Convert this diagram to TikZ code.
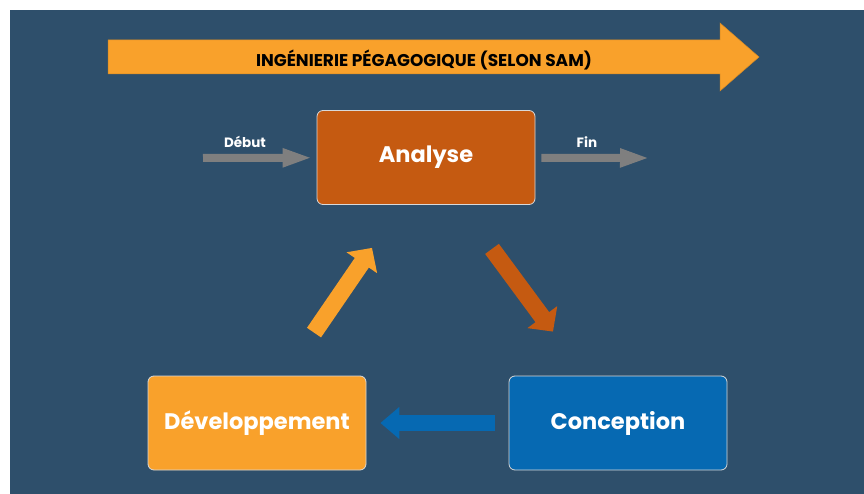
\documentclass[tikz,border=0pt]{standalone}
\usepackage{fontspec}
\setmainfont{Poppins}
\usetikzlibrary{arrows.meta}
\definecolor{fond}{HTML}{2E4F6B}
\definecolor{orangesam}{HTML}{F9A12B}
\definecolor{brique}{HTML}{C55A11}
\definecolor{bleusam}{HTML}{0669B2}
\definecolor{grisfleche}{HTML}{7F7F7F}

\begin{document}
\begin{tikzpicture}[x=1pt, y=-1pt,
  phase box/.style={minimum height=94pt, minimum width=218pt, draw=white!85!black, line width=0.8pt, rounded corners=6pt, text=white, font=\bfseries\fontsize{22.5}{26}\selectfont},
  fat arrow/.style={line width=17pt, -{Triangle[length=18pt, width=36pt]}},
  thin arrow/.style={line width=8pt, grisfleche, -{Triangle[length=30pt, width=17pt]}},
  small label/.style={text=white, font=\bfseries\fontsize{13.5}{16}\selectfont}]
\useasboundingbox (0,0) rectangle (864,494);
\fill[white] (0,0) rectangle (864,494);
\fill[fond] (10,10) rectangle (864,494);

\fill[orangesam, draw=orangesam!85!black, line width=0.5pt] (108,40) -- (720,40) -- (720,23) -- (759,57) -- (720,91) -- (720,74) -- (108,74) -- cycle;
\node[font=\bfseries\fontsize{17}{20}\selectfont] (titre) at (424,59.5) {INGÉNIERIE PÉGAGOGIQUE (SELON SAM)};

\node[phase box, fill=brique] (analyse) at (426,157.5) {Analyse};
\node[phase box, fill=orangesam] (developpement) at (257,423) {Développement};
\node[phase box, fill=bleusam] (conception) at (618,423) {Conception};

\coordinate (debut) at (203,158);
\coordinate (fin) at (650,158);

\draw[thin arrow, shorten >=4pt] (debut) -- (analyse) node[small label, pos=0.37, yshift=16pt] (debut label) {Début};
\draw[thin arrow, shorten <=6pt] (analyse) -- (fin) node[small label, pos=0.45, yshift=16pt] (fin label) {Fin};

\draw[fat arrow, brique] ([xshift=66pt, yshift=-44pt] analyse.south) -- ([xshift=-65pt, yshift=44pt] conception.north);
\draw[fat arrow, bleusam, line width=16pt, -{Triangle[length=19pt, width=31pt]}, shorten <=14pt, shorten >=14pt] (conception) -- (developpement);
\draw[fat arrow, orangesam] ([xshift=57pt, yshift=43pt] developpement.north) -- ([xshift=-54pt, yshift=-43pt] analyse.south);
\end{tikzpicture}
\end{document}
